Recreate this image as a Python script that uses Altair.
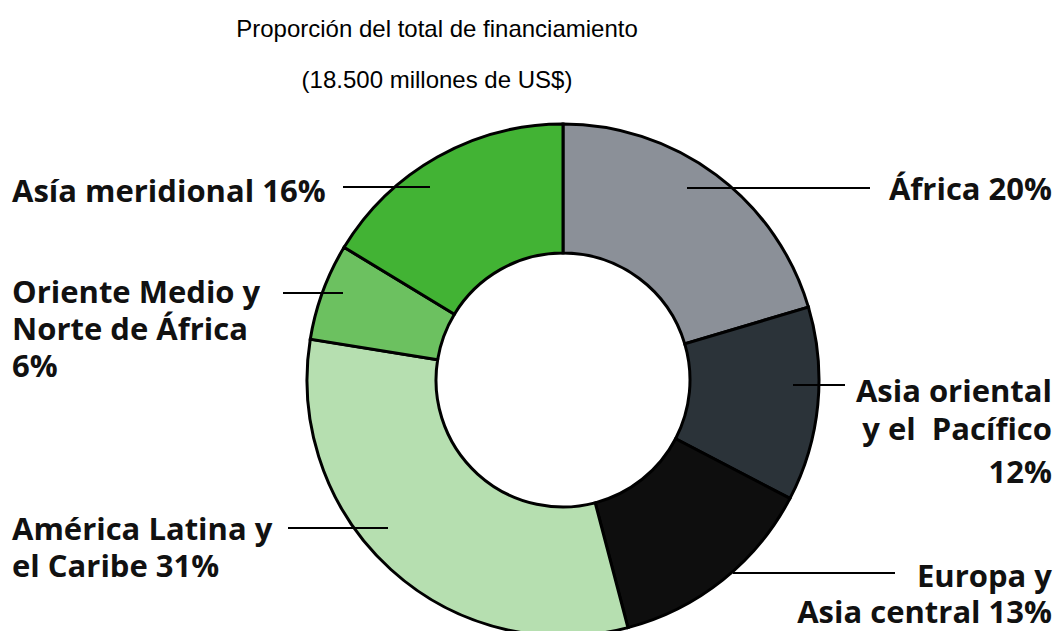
import altair as alt
import pandas as pd

# ---- data ----
regions = ["África", "Asia oriental y el Pacífico", "Europa y Asia central",
           "América Latina y el Caribe", "Oriente Medio y Norte de África",
           "Asía meridional"]
shares = [20, 12, 13, 31, 6, 16]
colors = ["#8b9098", "#2b3339", "#0e0e0e", "#b6dfb0", "#6cc160", "#42b334"]

title_lines = ["Proporción del total de financiamiento", "(18.500 millones de US$)"]

label_lines = ["Asía meridional 16%",
               "Oriente Medio y", "Norte de África", "6%",
               "América Latina y", "el Caribe 31%",
               "África 20%",
               "Asia oriental", "y el\u00a0\u00a0Pacífico", "12%",
               "Europa y", "Asia central 13%"]
label_x = [4, 4, 4, 4, 4, 4, 1044, 1044, 1044, 1044, 1044, 1044]
label_y = [194, 295, 332, 369, 532, 569, 192, 394, 432, 475, 579, 615]
label_align = ["left"] * 6 + ["right"] * 6

leader_x1 = [335, 275, 280, 679, 785, 725]
leader_x2 = [422, 335, 380, 862, 837, 887]
leader_y = [179, 285, 520, 180, 377, 565]

W, H = 1046, 623
CX, CY = 555, 372

pie_df = pd.DataFrame({"region": regions, "share": shares, "order": list(range(len(regions)))})
lab_df = pd.DataFrame({"text": label_lines, "x": label_x, "y": label_y, "align": label_align})
lead_df = pd.DataFrame({"x1": leader_x1, "x2": leader_x2, "y": leader_y})
title_df = pd.DataFrame({"text": title_lines, "x": [429, 429], "y": [29, 80]})

arcs = alt.Chart(pie_df).mark_arc(
    outerRadius=256, innerRadius=127, stroke="black", strokeWidth=3
).encode(
    theta=alt.Theta("share:Q", stack=True),
    order=alt.Order("order:Q"),
    color=alt.Color("region:N", scale=alt.Scale(domain=regions, range=colors), legend=None),
    x=alt.value(CX), y=alt.value(CY),
)

leaders = alt.Chart(lead_df).mark_rule(color="black", strokeWidth=2).encode(
    x=alt.X("x1:Q", scale=None), x2="x2:Q", y=alt.Y("y:Q", scale=None)
)

left_labels = alt.Chart(lab_df[lab_df["align"] == "left"]).mark_text(
    align="left", baseline="alphabetic", font="Open Sans", fontWeight="bold",
    fontSize=31, color="#111111"
).encode(x=alt.X("x:Q", scale=None), y=alt.Y("y:Q", scale=None), text="text:N")

right_labels = alt.Chart(lab_df[lab_df["align"] == "right"]).mark_text(
    align="right", baseline="alphabetic", font="Open Sans", fontWeight="bold",
    fontSize=31, color="#111111"
).encode(x=alt.X("x:Q", scale=None), y=alt.Y("y:Q", scale=None), text="text:N")

titles = alt.Chart(title_df).mark_text(
    align="center", baseline="alphabetic", font="Liberation Sans",
    fontSize=24, color="black"
).encode(x=alt.X("x:Q", scale=None), y=alt.Y("y:Q", scale=None), text="text:N")

chart = alt.layer(arcs, leaders, left_labels, right_labels, titles).properties(
    width=W, height=H, autosize=alt.AutoSizeParams(type="none"), padding=0
).configure_view(stroke=None)

chart.save("out.html", embed_options={"renderer": "svg", "actions": False})
